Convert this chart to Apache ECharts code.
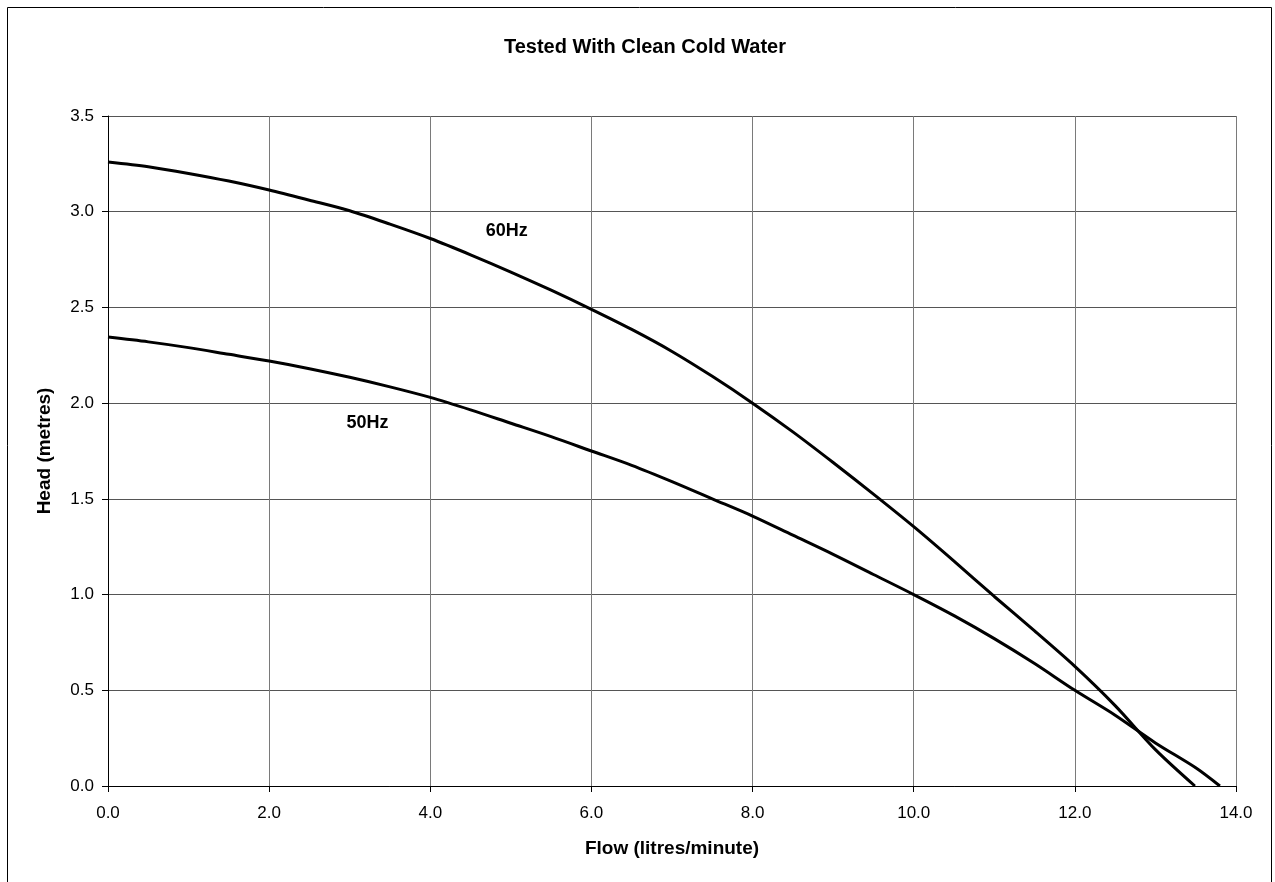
<!DOCTYPE html>
<html>
<head>
<meta charset="utf-8">
<script src="https://cdn.jsdelivr.net/npm/echarts@6/dist/echarts.min.js"></script>
<style>
  html, body { margin: 0; padding: 0; background: #fff; }
  #chart { width: 1275px; height: 882px; }
</style>
</head>
<body>
<div id="chart"></div>
<script>
// pump curves (flow l/min, head m)
const flow60 = [0, 0.5, 1, 1.5, 2, 2.5, 3, 3.5, 4, 4.5, 5, 5.5, 6, 6.5, 7, 7.5, 8, 8.5, 9, 9.5, 10, 10.5, 11, 11.5, 12, 12.5, 13, 13.49];
const head60 = [3.26, 3.235, 3.2, 3.16, 3.113, 3.06, 3.005, 2.935, 2.86, 2.775, 2.685, 2.59, 2.49, 2.385, 2.27, 2.14, 2.0, 1.85, 1.69, 1.525, 1.355, 1.175, 0.99, 0.81, 0.625, 0.42, 0.19, 0];

const flow50 = [0, 0.5, 1, 1.5, 2, 2.5, 3, 3.5, 4, 4.5, 5, 5.5, 6, 6.5, 7, 7.5, 8, 8.5, 9, 9.5, 10, 10.5, 11, 11.5, 12, 12.5, 13, 13.5, 13.8];
const head50 = [2.345, 2.32, 2.29, 2.255, 2.22, 2.18, 2.135, 2.085, 2.03, 1.965, 1.895, 1.825, 1.75, 1.675, 1.59, 1.5, 1.41, 1.31, 1.21, 1.105, 1.0, 0.89, 0.77, 0.64, 0.5, 0.37, 0.225, 0.095, 0];

// curve labels [flow, head]
const label60 = [4.95, 2.9];
const label50 = [3.22, 1.895];

const font = '"Liberation Sans", Arial, sans-serif';

function pairs(xs, ys) {
    let out = [];
    for (let i = 0; i < xs.length; i++) {
        out.push([xs[i], ys[i]]);
    }
    return out;
}

function curveLabel(text, pos) {
    return {
        symbol: 'circle',
        symbolSize: 0,
        label: { show: true, position: 'inside', color: '#000', fontFamily: font, fontSize: 18, fontWeight: 'bold', formatter: text },
        data: [{ coord: pos }]
    };
}

const myChart = echarts.init(document.getElementById('chart'));

const option = {
    backgroundColor: '#fff',
    animation: false,
    title: {
        text: 'Tested With Clean Cold Water',
        left: 640,
        top: 32,
        textAlign: 'center',
        textStyle: { fontFamily: font, fontSize: 20, fontWeight: 'bold', color: '#000' }
    },
    graphic: [
        {
            type: 'rect',
            shape: { x: 7.5, y: 7.5, width: 1264, height: 900 },
            style: { fill: 'none', stroke: '#000', lineWidth: 1 },
            silent: true
        }
    ],
    grid: { left: 108, top: 116, right: 39, bottom: 96 },
    xAxis: {
        type: 'value',
        min: 0,
        max: 14,
        interval: 2,
        name: 'Flow (litres/minute)',
        nameLocation: 'middle',
        nameGap: 53,
        nameTextStyle: { fontFamily: font, fontSize: 19, fontWeight: 'bold', color: '#000' },
        axisLine: { show: true, lineStyle: { color: '#000', width: 1 } },
        axisTick: { show: true, length: 6, lineStyle: { color: '#000' } },
        axisLabel: { color: '#000', fontFamily: font, fontSize: 17, margin: 19, formatter: v => v.toFixed(1) },
        splitLine: { show: true, lineStyle: { color: '#7a7a7a', width: 1 } }
    },
    yAxis: {
        type: 'value',
        min: 0,
        max: 3.5,
        interval: 0.5,
        name: 'Head (metres)',
        nameLocation: 'middle',
        nameGap: 54,
        nameRotate: 90,
        nameTextStyle: { fontFamily: font, fontSize: 19, fontWeight: 'bold', color: '#000' },
        axisLine: { show: true, lineStyle: { color: '#000', width: 1 } },
        axisTick: { show: true, length: 6, lineStyle: { color: '#000' } },
        axisLabel: { color: '#000', fontFamily: font, fontSize: 17, margin: 14, formatter: v => v.toFixed(1) },
        splitLine: { show: true, lineStyle: { color: '#555', width: 1 } }
    },
    series: [
        {
            name: '60Hz',
            type: 'line',
            smooth: 0.3,
            showSymbol: false,
            lineStyle: { color: '#000', width: 3 },
            data: pairs(flow60, head60),
            markPoint: curveLabel('60Hz', label60)
        },
        {
            name: '50Hz',
            type: 'line',
            smooth: 0.3,
            showSymbol: false,
            lineStyle: { color: '#000', width: 3 },
            data: pairs(flow50, head50),
            markPoint: curveLabel('50Hz', label50)
        }
    ]
};

option && myChart.setOption(option);
</script>
</body>
</html>
